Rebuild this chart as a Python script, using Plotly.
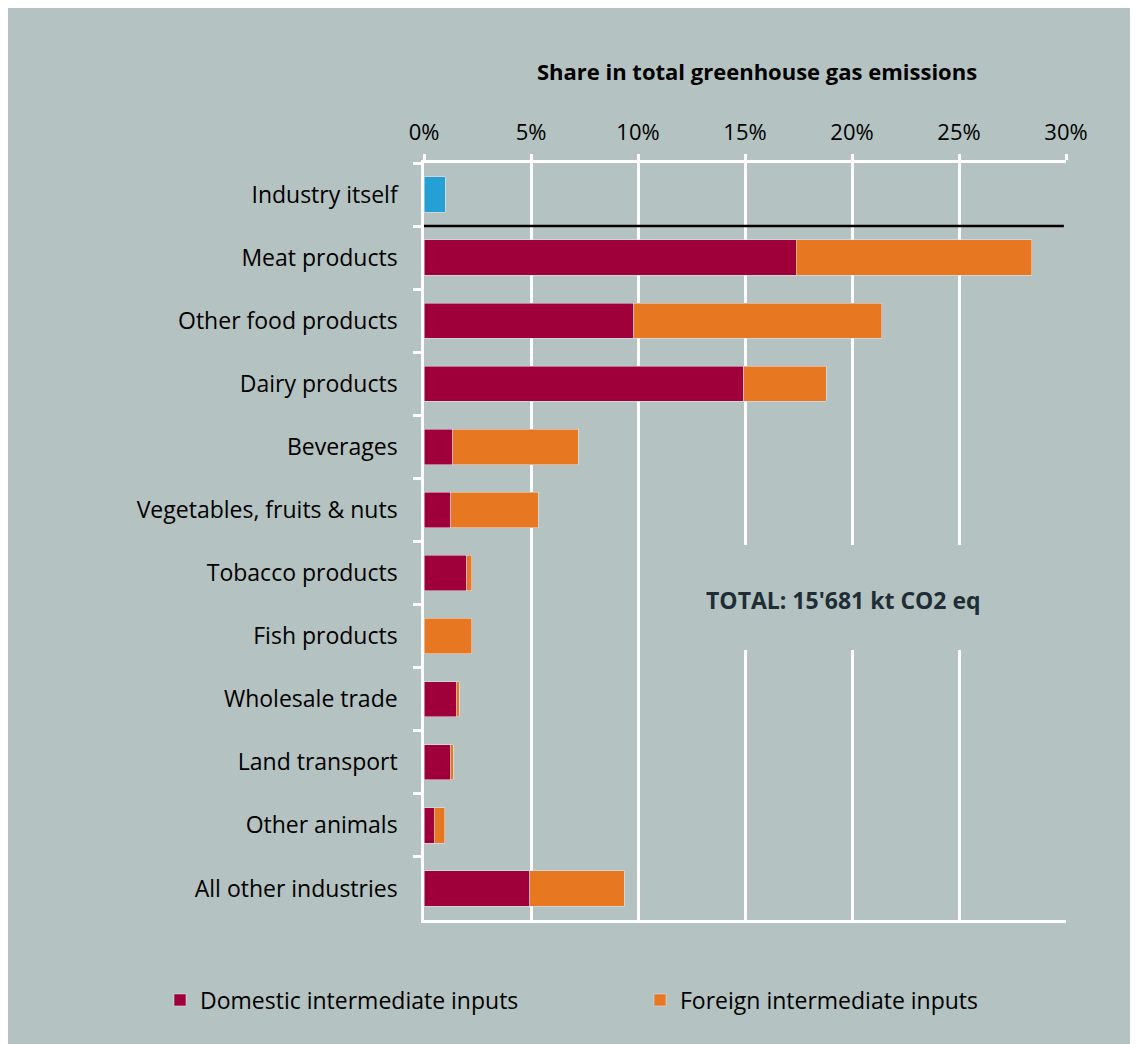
import plotly.graph_objects as go

categories = ["Industry itself", "Meat products", "Other food products", "Dairy products",
              "Beverages", "Vegetables, fruits & nuts", "Tobacco products", "Fish products",
              "Wholesale trade", "Land transport", "Other animals", "All other industries"]
industry_itself = [1.0, None, None, None, None, None, None, None, None, None, None, None]
domestic = [None, 17.4, 9.8, 14.95, 1.35, 1.25, 2.0, 0.0, 1.5, 1.23, 0.48, 4.95]
foreign = [None, 11.0, 11.6, 3.85, 5.85, 4.1, 0.24, 2.24, 0.14, 0.14, 0.5, 4.4]
x_ticks = [0, 5, 10, 15, 20, 25, 30]
x_tick_labels = ["0%", "5%", "10%", "15%", "20%", "25%", "30%"]

BG = "#b4c2c1"
FONT = "Open Sans"
W, H = 1130, 1037
ML, MR, MT, MB = 416, 72, 155, 125
PH = H - MT - MB

fig = go.Figure()
fig.add_trace(go.Bar(y=categories, x=industry_itself, orientation="h", marker_color="#25a0d5",
                     showlegend=False, width=0.56, name="Industry itself"))
fig.add_trace(go.Bar(y=categories, x=domestic, orientation="h", marker_color="#a0003a",
                     name="Domestic intermediate inputs", width=0.56))
fig.add_trace(go.Bar(y=categories, x=foreign, orientation="h", marker_color="#e87722",
                     name="Foreign intermediate inputs", width=0.56))

# separator line
fig.add_shape(type="line", xref="x", yref="y", x0=0, x1=29.9, y0=0.5, y1=0.5,
              line=dict(color="black", width=2.5), layer="above")
# background patch behind the total label
def ypix(p):
    return 1 - (p - (MT + 8)) / PH
fig.add_shape(type="rect", xref="paper", yref="paper", x0=0.42, x1=1.02,
              y0=ypix(650), y1=ypix(545), fillcolor=BG, line_width=0, layer="above")

fig.add_annotation(x=19.6, y=6.43, xref="x", yref="y", text="<b>TOTAL: 15'681 kt CO2 eq</b>",
                   showarrow=False, font=dict(family=FONT, size=23, color="#1f2e35"))

fig.update_layout(
    width=W, height=H,
    margin=dict(l=ML, r=MR, t=MT, b=MB, pad=0),
    paper_bgcolor=BG, plot_bgcolor=BG,
    barmode="stack", bargap=0.44,
    font=dict(family=FONT, size=23, color="black"),
    title=dict(text="<b>Share in total greenhouse gas emissions</b>", x=(757 - 8) / W,
               xanchor="center", y=1 - (72 - 8) / H, yanchor="middle",
               font=dict(family=FONT, size=22, color="black")),
    legend=dict(orientation="h", traceorder="normal", x=(160 - 8 - ML) / (W - ML - MR), xanchor="left",
                y=-(1000 - 8 - (MT + PH)) / PH, yanchor="middle",
                font=dict(family=FONT, size=23, color="black"),
                entrywidth=435, entrywidthmode="pixels", bgcolor="rgba(0,0,0,0)"),
    xaxis=dict(side="top", range=[0, 30], tickvals=x_ticks, ticktext=x_tick_labels,
               showgrid=True, gridcolor="white", gridwidth=2.5, zeroline=False,
               showline=True, linecolor="white", linewidth=2.5, mirror=True,
               ticks="outside", ticklen=6, tickcolor="white", tickwidth=2.5,
               tickfont=dict(family=FONT, size=22, color="black"), ticklabelstandoff=5),
    yaxis=dict(categoryorder="array", categoryarray=categories, autorange="reversed",
               showgrid=False, showline=True, linecolor="white", linewidth=2.5,
               ticks="outside", tickson="boundaries", ticklen=8, tickcolor="white", tickwidth=2.5,
               tickfont=dict(family=FONT, size=23, color="black"), ticklabelstandoff=19),
)

fig.write_html("out.html",
               post_script="document.documentElement.style.overflow='hidden';document.body.style.overflow='hidden';")
